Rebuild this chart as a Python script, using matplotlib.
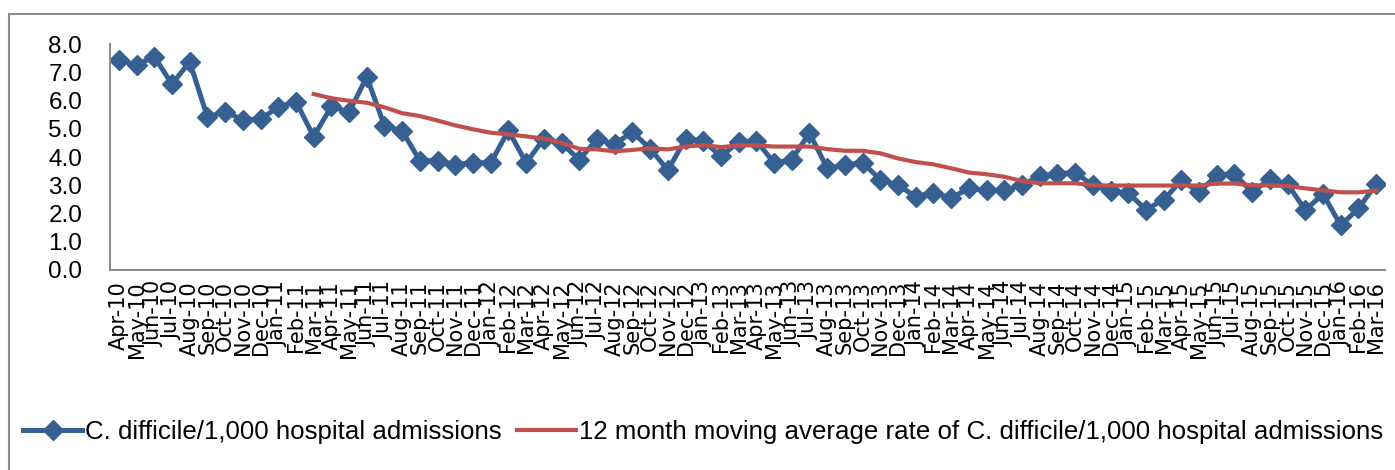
import numpy as np
import matplotlib.pyplot as plt
from matplotlib.patches import Rectangle

# months Apr-10 .. Mar-16
months = ['Apr', 'May', 'Jun', 'Jul', 'Aug', 'Sep', 'Oct', 'Nov', 'Dec', 'Jan', 'Feb', 'Mar']
labels = []
for yr in range(10, 16):
    for i, m in enumerate(months):
        labels.append(f'{m}-{yr + (1 if i >= 9 else 0)}')

cdiff_rate = [7.43, 7.26, 7.55, 6.58, 7.37, 5.42, 5.6, 5.32, 5.34, 5.77, 5.96, 4.72,
              5.79, 5.58, 6.84, 5.1, 4.92, 3.87, 3.87, 3.73, 3.8, 3.79, 4.94, 3.79,
              4.65, 4.48, 3.91, 4.62, 4.46, 4.88, 4.3, 3.53, 4.64, 4.58, 4.02, 4.53,
              4.58, 3.79, 3.91, 4.85, 3.6, 3.72, 3.8, 3.2, 3.0, 2.6, 2.74, 2.55,
              2.89, 2.82, 2.82, 3.01, 3.32, 3.41, 3.45, 3.0, 2.79, 2.72, 2.14, 2.48,
              3.18, 2.75, 3.36, 3.4, 2.75, 3.23, 3.04, 2.12, 2.69, 1.58, 2.18, 3.04]

moving_avg = [np.nan] * 11 + [
    6.23, 6.08, 5.99, 5.92, 5.76, 5.55, 5.45, 5.29, 5.12, 4.98, 4.86, 4.8,
    4.73, 4.65, 4.5, 4.29, 4.27, 4.2, 4.25, 4.31, 4.27, 4.37, 4.42, 4.35,
    4.41, 4.41, 4.37, 4.37, 4.37, 4.28, 4.22, 4.22, 4.13, 3.95, 3.82, 3.74,
    3.6, 3.45, 3.39, 3.3, 3.15, 3.07, 3.07, 3.07, 3.0, 2.99, 2.99, 2.99,
    2.99, 2.99, 2.99, 3.06, 3.06, 3.0, 2.99, 2.97, 2.89, 2.82, 2.75, 2.75, 2.81]

fig = plt.figure(figsize=(13.95, 4.7), dpi=100)
ax = fig.add_axes([110 / 1395, 1 - 270 / 470, 1275 / 1395, 226 / 470])

x = np.arange(len(labels))
ax.plot(x, cdiff_rate, color='#376092', lw=3.6, marker='D', ms=10.5,
        label='C. difficile/1,000 hospital admissions')
ax.plot(x, moving_avg, color='#C0504D', lw=3,
        label='12 month moving average rate of C. difficile/1,000 hospital admissions')

ax.set_xlim(-0.5, len(labels) - 0.5)
ax.set_ylim(0, 8)
ax.set_yticks(np.arange(0, 8.1, 1))
ax.set_yticklabels([f'{v:.1f}' for v in np.arange(0, 8.1, 1)],
                   fontsize=17.5, family='Liberation Sans')
ax.set_xticks(x)
ax.set_xticklabels(labels, rotation=90, fontsize=15, family='DejaVu Sans')
ax.tick_params(axis='y', length=0, pad=20)
ax.tick_params(axis='x', length=0, pad=8)
for s in ['top', 'right']:
    ax.spines[s].set_visible(False)
for s in ['left', 'bottom']:
    ax.spines[s].set_color('#8c8c8c')
    ax.spines[s].set_linewidth(1.5)

fig.legend(loc='center', bbox_to_anchor=(0.504, 1 - 432 / 470), ncol=2, frameon=False,
           prop={'family': 'Liberation Sans', 'size': 18.6}, handlelength=2.3,
           handletextpad=0.1, columnspacing=0.6)

# outer chart border
fig.patches.append(Rectangle((9 / 1395, -0.1), 2, 1.1 - 14 / 470, transform=fig.transFigure,
                             fill=False, edgecolor='#8c8c8c', lw=1.5))

fig.savefig('out.png', dpi=100)
